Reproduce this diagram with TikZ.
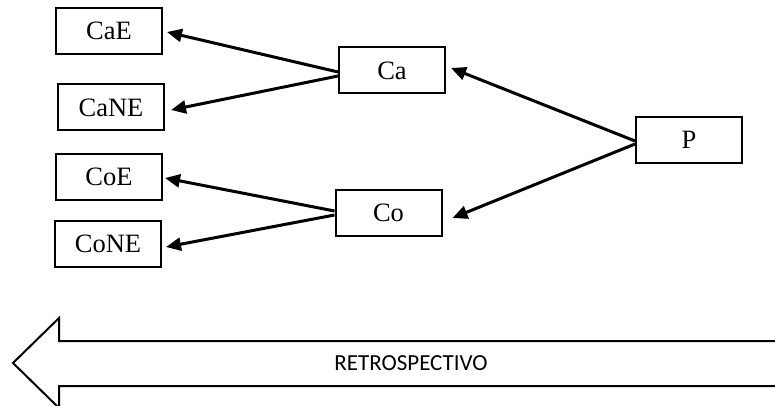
\documentclass[tikz,border=0pt]{standalone}
\usepackage{fontspec}
\setmainfont{Liberation Serif}
\newfontfamily\calib{Carlito}
\usetikzlibrary{arrows.meta}
\begin{document}
\begin{tikzpicture}[x=1pt,y=-1pt,
  box/.style={draw,line width=2pt,minimum width=106pt,minimum height=46pt,inner sep=0pt,font=\fontsize{26.5}{30}\selectfont},
  conn/.style={line width=3pt,-{Triangle[length=15pt,width=13pt]}}]
\useasboundingbox (0,0) rectangle (775,406);
\node[box] (CaE) at (109,31) {CaE};
\node[box] (CaNE) at (111,107.5) {CaNE};
\node[box] (CoE) at (109,177) {CoE};
\node[box] (CoNE) at (108,243.5) {CoNE};
\node[box] (Ca) at (392,70.5) {Ca};
\node[box] (Co) at (388.5,212.5) {Co};
\node[box] (P) at (689,140) {P};
\draw[conn] ([yshift=-1.5pt]Ca.west) -- ([xshift=4pt,yshift=-1pt]CaE.east);
\draw[conn] ([yshift=-5.5pt]Ca.west) -- ([xshift=6pt,yshift=-2.5pt]CaNE.east);
\draw[conn] ([yshift=1.5pt]Co.west) -- ([xshift=2pt,yshift=-1pt]CoE.east);
\draw[conn] ([yshift=-2.5pt]Co.west) -- ([xshift=4pt,yshift=-3.5pt]CoNE.east);
\draw[conn] ([yshift=-1pt]P.west) -- ([xshift=5pt,yshift=2.5pt]Ca.east);
\draw[conn] ([yshift=-4pt]P.west) -- ([xshift=10pt,yshift=-5.5pt]Co.east);
\begin{scope}
\clip (0,0) rectangle (775,406);
\draw[line width=2pt,line join=miter] (780,341) -- (59,341) -- (59,318) -- (13,363) -- (59,408) -- (59,386) -- (780,386);
\end{scope}
\node[font=\calib\fontsize{23}{27}\selectfont] (retro) at (411,363) {RETROSPECTIVO};
\end{tikzpicture}
\end{document}
